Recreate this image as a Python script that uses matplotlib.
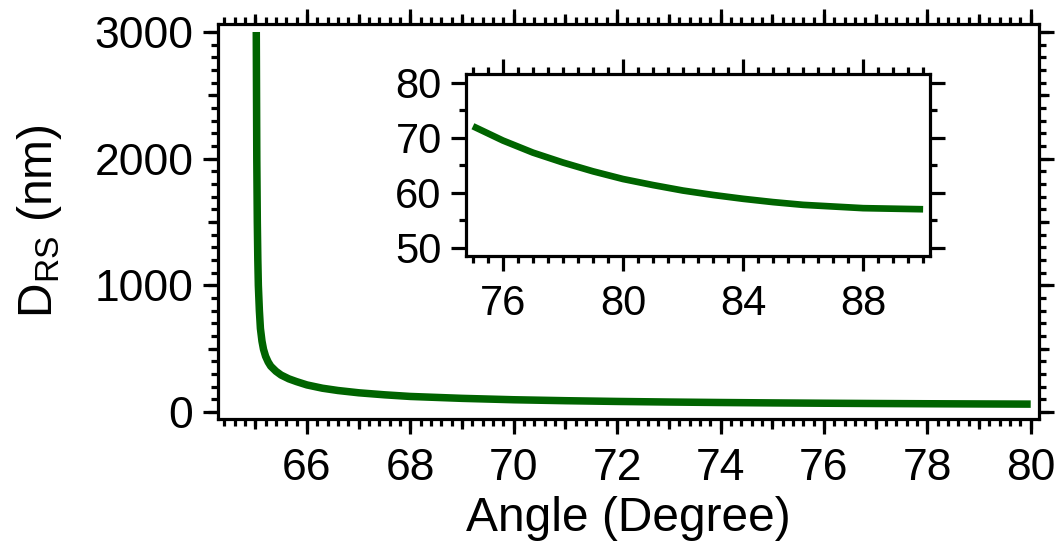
import matplotlib
matplotlib.use("Agg")
import matplotlib.pyplot as plt
from matplotlib.ticker import MultipleLocator

plt.rcParams["font.family"] = ["Liberation Sans", "DejaVu Sans"]
plt.rcParams["mathtext.fontset"] = "custom"
plt.rcParams["mathtext.rm"] = "Liberation Sans"
plt.rcParams["mathtext.it"] = "Liberation Sans"

# penetration depth vs incidence angle (full range)
angle_main = [65.02, 65.03, 65.04, 65.05, 65.06, 65.08, 65.10, 65.13, 65.16,
              65.20, 65.25, 65.30, 65.40, 65.50, 65.65, 65.80, 66.0, 66.3,
              66.6, 67.0, 67.5, 68.0, 69.0, 70.0, 71.0, 72.0, 73.0, 74.0,
              75.0, 76.0, 77.0, 78.0, 79.0, 80.0]
depth_main = [3000, 2000, 1500, 1200, 1000, 800, 660, 560, 495,
              440, 395, 362, 322, 292, 262, 240, 214, 188,
              170, 152, 136, 123, 108, 97, 89.5, 83.6, 79.0, 75.2,
              72.1, 69.5, 67.3, 65.5, 63.9, 62.5]

# zoomed range for the inset
angle_inset = [75, 76, 77, 78, 79, 80, 81, 82, 83, 84, 85, 86, 87, 88, 89, 90]
depth_inset = [72.1, 69.5, 67.3, 65.5, 63.9, 62.5, 61.4, 60.4, 59.6, 58.9,
               58.3, 57.8, 57.5, 57.2, 57.1, 57.0]

GREEN = "#006400"
LW_AX = 2.3


def style_axes(ax, major_len, minor_len, fs, pad):
    for sp in ax.spines.values():
        sp.set_linewidth(LW_AX)
    ax.tick_params(which="both", direction="out", top=True, right=True,
                   width=LW_AX, colors="black")
    ax.tick_params(which="major", length=major_len, labelsize=fs, pad=pad)
    ax.tick_params(which="minor", length=minor_len)


def mid_ticks(fig, ax, xstep, ystep, length):
    # extra layer of intermediate-length ticks (Igor style)
    ov = fig.add_axes(ax.get_position(), zorder=ax.get_zorder() - 0.5)
    ov.set_xlim(ax.get_xlim())
    ov.set_ylim(ax.get_ylim())
    ov.patch.set_visible(False)
    for sp in ov.spines.values():
        sp.set_visible(False)
    ov.xaxis.set_major_locator(MultipleLocator(xstep))
    ov.yaxis.set_major_locator(MultipleLocator(ystep))
    ov.tick_params(which="both", direction="out", top=True, right=True,
                   width=LW_AX, length=length, labelbottom=False,
                   labelleft=False)
    return ov


fig = plt.figure(figsize=(10.63, 5.56), dpi=100)

ax = fig.add_axes([0.2051, 0.2464, 0.7723, 0.7104])
ax.plot(angle_main, depth_main, color=GREEN, lw=5.4, solid_capstyle="butt")
ax.set_xlim(64.28, 80.16)
ax.set_ylim(-55, 3063)
ax.xaxis.set_major_locator(MultipleLocator(2))
ax.xaxis.set_minor_locator(MultipleLocator(0.2))
ax.yaxis.set_major_locator(MultipleLocator(1000))
ax.yaxis.set_minor_locator(MultipleLocator(100))
style_axes(ax, 10.8, 5.0, 32, 7)
ax.tick_params(axis="x", which="major", pad=10)
ax.set_xlabel("Angle (Degree)", fontsize=34.5, labelpad=5)
ax.set_ylabel(r"$\mathrm{D_{RS}}$ (nm)", fontsize=34.5, labelpad=22)
mid_ticks(fig, ax, 1, 500, 7.2)

ins = fig.add_axes([0.4384, 0.5396, 0.4365, 0.3273])
ins.plot(angle_inset, depth_inset, color=GREEN, lw=4.8, solid_capstyle="butt")
ins.set_xlim(74.77, 90.23)
ins.set_ylim(48.5, 81.6)
ins.xaxis.set_major_locator(MultipleLocator(4))
ins.xaxis.set_minor_locator(MultipleLocator(0.5))
ins.yaxis.set_major_locator(MultipleLocator(10))
ins.yaxis.set_minor_locator(MultipleLocator(5))
style_axes(ins, 10.5, 5.0, 30, 7)
ins.tick_params(axis="x", which="major", pad=10)

fig.savefig("out.png", dpi=100)
